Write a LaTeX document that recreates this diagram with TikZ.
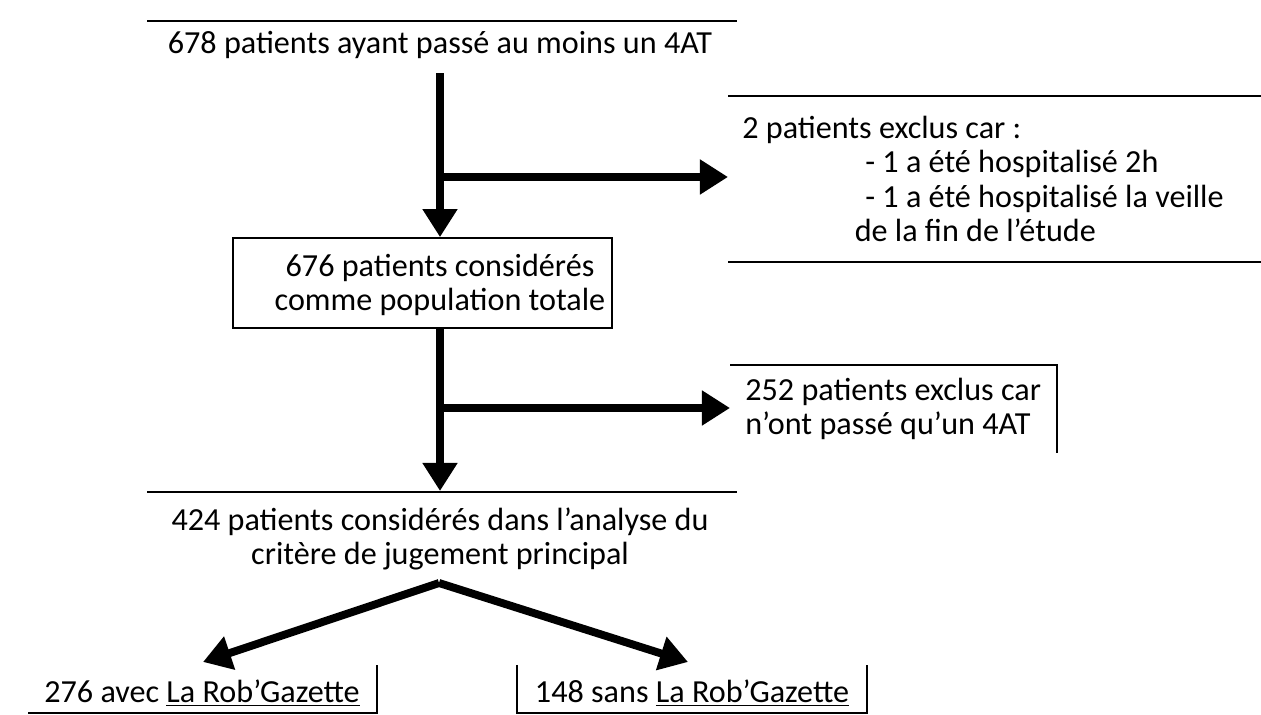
\documentclass[tikz,border=0pt]{standalone}
\usepackage{fontspec}
\setmainfont{Carlito}
\usetikzlibrary{arrows.meta}
\usetikzlibrary{positioning}

\tikzset{
  txt/.style={font=\fontsize{18.3}{19.5}\selectfont, inner sep=0pt},
  flow/.style={line width=4.5pt, -{Triangle[width=19pt,length=16pt]}},
  border/.style={line width=1pt}
}

\begin{document}
\begin{tikzpicture}[x=0.02cm,y=-0.02cm]
\useasboundingbox (0,0) rectangle (1261,715);

% step 1
\node[txt] (all) at (440,45) {678 patients ayant passé au moins un 4AT};
\draw[border] (147,21) -- (737,21);

\node[txt, anchor=west, align=left] (excl1) at (742,179) {2 patients exclus car :\\
\hspace*{70pt}- 1 a été hospitalisé 2h\\
\hspace*{70pt}- 1 a été hospitalisé la veille\\
\hspace*{64pt}de la fin de l'étude};
\draw[border] (728,96) -- (1261,96);
\draw[border] (728,262) -- (1261,262);

\node[draw, border, minimum width=7.58cm, minimum height=1.8cm] (popbox) at (422.5,283) {};
\node[txt, align=center] (pop) at (440,285) {676 patients considérés\\comme population totale};

\coordinate (fork1) at (440,177);
\draw[flow, shorten <=8pt] (all.south) -- (popbox.north -| all.south);
\draw[flow] (fork1) -- (fork1 -| 728,0);

% step 2
\node[txt, anchor=west, align=left] (excl2) at (745,409) {252 patients exclus car\\n'ont passé qu'un 4AT};
\draw[border] (730,365) -- (1057,365) -- (1057,453);

\node[txt, align=center] (crit) at (440,539) {424 patients considérés dans l'analyse du\\critère de jugement principal};
\draw[border] (147,492) -- (737,492);

\coordinate (critin) at (440,491);
\coordinate (fork2) at (440,408);
\draw[flow] (popbox.south -| pop) -- (critin);
\draw[flow] (fork2) -- (fork2 -| 730,0);

% split
\coordinate (split) at (439,583);
\node[txt] (with) at (202,693) {276 avec \underline{La Rob'Gazette}};
\draw[border] (28,713) -- (377,713) -- (377,665);
\node[txt] (without) at (692,693) {148 sans \underline{La Rob'Gazette}};
\draw[border] (517,665) -- (517,713) -- (867,713) -- (867,665);

\draw[flow] (split) -- (203,662);
\draw[flow] (split) -- (688,662);

\end{tikzpicture}
\end{document}
